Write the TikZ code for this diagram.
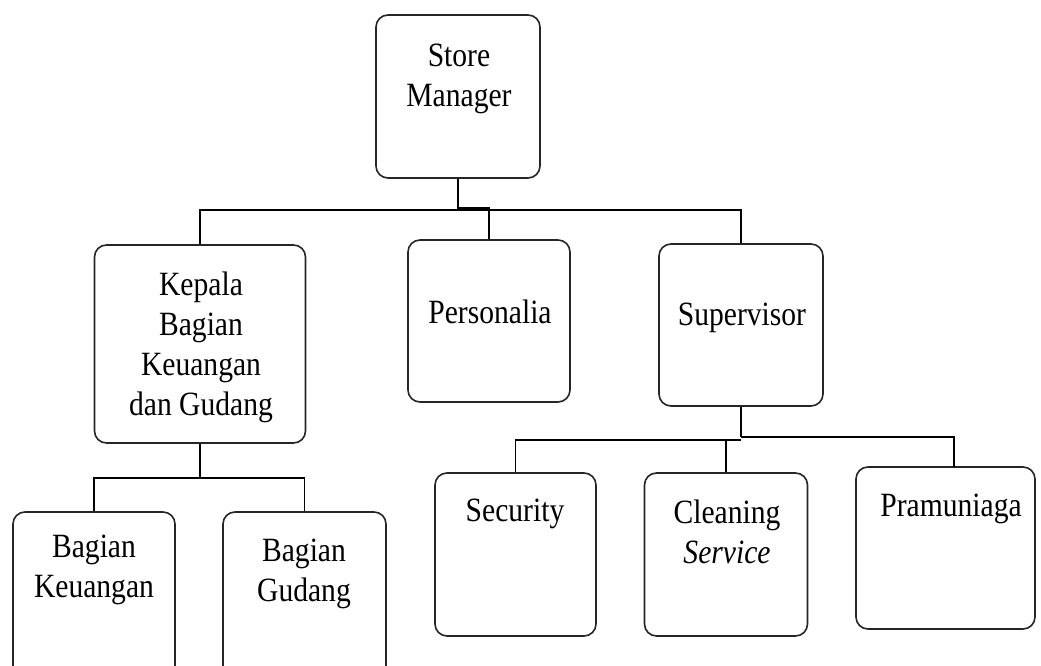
\documentclass[tikz,border=0pt]{standalone}
\usepackage{fontspec}
\setmainfont{Liberation Serif}[FakeStretch=0.87]
\begin{document}
\begin{tikzpicture}[x=1pt,y=-1pt,
  orgbox/.style={draw=black!85, line width=1.6pt, rounded corners=12pt, inner sep=0pt, fill=white},
  lbl/.style={font=\fontsize{34}{40}\selectfont, align=center, inner sep=0pt, anchor=north},
  conn/.style={draw=black, line width=1.5pt}]
\useasboundingbox (0,0) rectangle (1041,666);
\clip (0,0) rectangle (1041,666);
\fill[white] (0,0) rectangle (1041,666);

% boxes
\node[orgbox, minimum width=164pt, minimum height=163pt] (sm)  at (458,96.5) {};
\node[orgbox, minimum width=211pt, minimum height=198pt] (kep) at (200,344) {};
\node[orgbox, minimum width=162pt, minimum height=162pt] (per) at (489,321) {};
\node[orgbox, minimum width=164pt, minimum height=162pt] (sup) at (741,325) {};
\node[orgbox, minimum width=162pt, minimum height=190pt] (bk)  at (94,607) {};
\node[orgbox, minimum width=163pt, minimum height=190pt] (bg)  at (304.5,607) {};
\node[orgbox, minimum width=161pt, minimum height=163pt] (sec) at (515.5,554.5) {};
\node[orgbox, minimum width=163pt, minimum height=163pt] (cle) at (726,554.5) {};
\node[orgbox, minimum width=179pt, minimum height=162pt] (pra) at (945.5,548) {};

% labels
\node[lbl] (tsm)  at (459,44)  {Store\\Manager};
\node[lbl] (tkep) at (201,272) {Kepala\\Bagian\\Keuangan\\dan Gudang};
\node[lbl] (tper) at (490,300) {Personalia};
\node[lbl] (tsup) at (742,303) {Supervisor};
\node[lbl] (tbk)  at (94,535)  {Bagian\\Keuangan};
\node[lbl] (tbg)  at (304,539) {Bagian\\Gudang};
\node[lbl] (tsec) at (515,499) {Security};
\node[lbl] (tcle) at (727,500) {Cleaning\\\textit{Service}};
\node[lbl] (tpra) at (951,494) {Pramuniaga};

% bus levels
\coordinate (busA) at (0,208);
\coordinate (busB) at (0,210);
\coordinate (busC) at (0,478);
\coordinate (busD) at (0,440);
\coordinate (busE) at (0,437);
\coordinate (prt) at (954,467);

% connectors
\draw[conn] (sm.south) -- (sm.south |- busA) -- (per.north |- busA) -- (per.north);
\draw[conn] (kep.north) -- (kep.north |- busB) -- (sup.north |- busB) -- (sup.north);
\draw[conn] (kep.south) -- (kep.south |- busC);
\draw[conn] (bk.north) -- (bk.north |- busC) -- (bg.north |- busC) -- (bg.north);
\draw[conn] (sup.south) -- (sup.south |- busE);
\draw[conn] (sec.north) -- (sec.north |- busD) -- (sup.south |- busD);
\draw[conn] (cle.north) -- (cle.north |- busD);
\draw[conn] (sup.south |- busE) -- (prt |- busE) -- (prt);
\end{tikzpicture}
\end{document}
